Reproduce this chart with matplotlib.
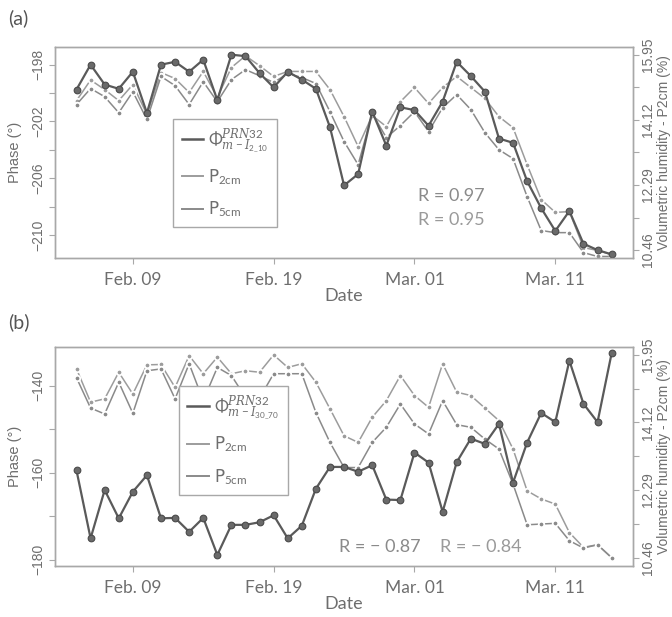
import matplotlib.pyplot as plt
from matplotlib.lines import Line2D
import numpy as np
import pandas as pd

# daily samples, Feb 05 -> Mar 15
dates = pd.date_range('2019-02-05', '2019-03-15', freq='D')
tick_dates = pd.to_datetime(['2019-02-09', '2019-02-19', '2019-03-01', '2019-03-11'])
tick_labels = ['Feb. 09', 'Feb. 19', 'Mar. 01', 'Mar. 11']

# panel (a)
phase_a = [-199.75, -198.0, -199.4, -199.7, -198.5, -201.4, -198.0, -197.8, -198.5, -197.65,
           -200.5, -197.3, -197.4, -198.6, -199.6, -198.5, -199.05, -199.7, -202.4, -206.5,
           -205.7, -201.3, -203.7, -201.0, -201.2, -202.3, -200.6, -197.8, -198.8, -199.9,
           -203.2, -203.5, -206.2, -208.1, -209.7, -208.3, -210.6, -211.05, -211.35]
p2_a = [14.66, 15.24, 14.97, 14.66, 15.11, 14.27, 15.45, 15.28, 14.89, 15.48,
        14.75, 15.59, 15.92, 15.64, 15.34, 15.48, 15.48, 15.48, 14.97, 14.21,
        13.37, 14.24, 13.93, 14.63, 15.03, 14.58, 15.03, 15.34, 15.03, 14.72,
        14.21, 13.90, 12.86, 11.88, 11.52, 11.54, 10.53, 10.45, 10.33]
p5_a = [14.55, 15.00, 14.77, 14.32, 14.91, 14.13, 15.34, 15.08, 14.55, 15.19,
        14.63, 15.25, 15.53, 15.36, 15.17, 15.42, 15.31, 15.14, 14.35, 13.51,
        12.86, 14.30, 13.62, 13.96, 14.35, 13.79, 14.46, 14.83, 14.41, 13.76,
        13.28, 13.03, 11.96, 11.01, 10.95, 10.95, 10.39, 10.28, 10.28]

# panel (b)
phase_b = [-159.5, -175.1, -164.0, -170.5, -164.4, -160.6, -170.5, -170.4, -173.6, -170.4,
           -178.9, -172.0, -172.0, -171.4, -169.8, -175.1, -172.2, -163.7, -158.7, -158.7,
           -159.8, -158.3, -166.2, -166.3, -155.4, -157.7, -169.0, -157.6, -152.2, -153.4,
           -148.8, -162.3, -153.1, -146.3, -148.4, -134.3, -144.2, -148.4, -132.6]
p2_b = [15.57, 14.67, 14.76, 15.48, 14.89, 15.68, 15.69, 15.07, 15.93, 15.44,
        15.89, 15.44, 15.52, 15.48, 15.95, 15.61, 15.71, 15.21, 14.49, 13.76,
        13.58, 14.26, 14.71, 15.39, 14.85, 14.53, 15.71, 14.94, 14.85, 14.51,
        14.17, 13.40, 12.27, 12.05, 11.91, 11.14, 10.74, 10.81, 10.46]
p5_b = [15.33, 14.51, 14.35, 15.21, 14.37, 15.52, 15.57, 14.76, 15.71, 14.71,
        15.61, 15.39, 14.80, 14.78, 15.44, 15.44, 15.44, 14.39, 13.58, 12.90,
        12.90, 13.58, 13.99, 14.62, 14.08, 13.81, 14.71, 14.06, 13.99, 13.67,
        13.40, 12.45, 11.35, 11.37, 11.39, 10.92, 10.72, 10.81, 10.46]

hum_ticks = np.linspace(10.46, 15.95, 7)

plt.rcParams['mathtext.fontset'] = 'custom'
plt.rcParams['mathtext.rm'] = 'Lato'
plt.rcParams['mathtext.it'] = 'DejaVu Serif:italic'

c_frame = '#a8a8a8'
c_text = '#6e6e6e'
c_phase = '#5a5a5a'
c_p2 = '#9c9c9c'
c_p5 = '#8a8a8a'

fig = plt.figure(figsize=(6.72, 6.17), dpi=100)


def panel(rect, phase, p2, p5, ylim, yticks, ylabels, leg_name, leg_pos):
    ax = fig.add_axes(rect)
    ax2 = ax.twinx()
    ax.set_zorder(ax2.get_zorder() + 1)
    ax.patch.set_visible(False)

    ax2.plot(dates, p2, color=c_p2, lw=1.1, marker='o', ms=4.0, mfc=c_p2,
             mec='white', mew=1.3)
    ax2.plot(dates, p5, color=c_p5, lw=1.1, marker='o', ms=4.0, mfc=c_p5,
             mec='white', mew=1.3)
    ax.plot(dates, phase, color=c_phase, lw=1.6, marker='o', ms=4.8,
            mfc='#6a6a6a', mec='#4a4a4a', mew=0.8)

    pad = pd.Timedelta(days=1.52)
    ax.set_xlim(dates[0] - pad, dates[-1] + pad)
    ax.set_ylim(*ylim)
    ax2.set_ylim(10.24, 16.17)

    ax.set_xticks(tick_dates)
    ax.set_xticklabels(tick_labels, fontsize=12.5, family='Lato', color=c_text)
    ax.set_yticks(yticks)
    ax.set_yticklabels(ylabels, rotation=90, va='center', fontsize=10,
                       family='Liberation Sans', color=c_text)
    ax2.set_yticks(hum_ticks)
    ax2.set_yticklabels([f'{v:.2f}' if i % 2 == 0 else '' for i, v in
                         enumerate(hum_ticks)],
                        rotation=90, va='center', fontsize=10,
                        family='Liberation Sans', color=c_text)
    for a in (ax, ax2):
        a.tick_params(colors=c_frame, length=4, width=0.8)
        for s in a.spines.values():
            s.set_color(c_frame)
            s.set_linewidth(1.0)
    ax.tick_params(axis='x', pad=6, labelcolor=c_text)
    ax.tick_params(axis='y', labelcolor=c_text, pad=3)
    ax2.tick_params(axis='y', labelcolor=c_text, pad=2)

    ax.set_xlabel('Date', fontsize=13, family='Lato', color=c_text, labelpad=0)
    ax.set_ylabel('Phase (°)', fontsize=10.5, family='Liberation Sans',
                  color=c_text, labelpad=7)
    ax2.set_ylabel('Volumetric humidity - P2cm (%)', fontsize=10,
                   family='Liberation Sans', color=c_text, labelpad=1)

    handles = [Line2D([], [], color=c_phase, lw=1.8),
               Line2D([], [], color=c_p2, lw=1.4),
               Line2D([], [], color=c_p5, lw=1.4)]
    labels = [leg_name, r'P$_{\mathrm{2cm}}$', r'P$_{\mathrm{5cm}}$']
    leg = ax.legend(handles, labels, loc='lower left', bbox_to_anchor=leg_pos,
                    fontsize=12, handlelength=1.3, handletextpad=0.3,
                    labelspacing=0.75, borderpad=0.5, fancybox=False,
                    framealpha=1, edgecolor=c_frame, labelcolor=c_text)
    leg.get_frame().set_linewidth(1.0)
    return ax


ax_a = panel([0.082, 0.582, 0.860, 0.342], phase_a, p2_a, p5_a,
             (-211.6, -196.75), [-198, -200, -202, -204, -206, -208, -210],
             ['\u2212198', '', '\u2212202', '', '\u2212206', '', '\u2212210'],
             r'$\Phi_{m-I_{2\_10}}^{PRN32}$', (0.19, 0.105))
ax_a.text(0.685, 0.294, 'R = 0.97', transform=ax_a.transAxes, ha='center',
          va='center', fontsize=13, family='Lato', color='#8a8a8a')
ax_a.text(0.685, 0.18, 'R = 0.95', transform=ax_a.transAxes, ha='center',
          va='center', fontsize=13, family='Lato', color='#9a9a9a')

ax_b = panel([0.082, 0.083, 0.860, 0.355], phase_b, p2_b, p5_b,
             (-181.4, -131.1), [-140, -150, -160, -170, -180],
             ['\u2212140', '', '\u2212160', '', '\u2212180'],
             r'$\Phi_{m-I_{30\_70}}^{PRN32}$', (0.2, 0.285))
ax_b.text(0.561, 0.087, 'R = \u2212 0.87', transform=ax_b.transAxes, ha='center',
          va='center', fontsize=13, family='Lato', color='#8a8a8a')
ax_b.text(0.737, 0.087, 'R = \u2212 0.84', transform=ax_b.transAxes, ha='center',
          va='center', fontsize=13, family='Lato', color='#9a9a9a')

fig.text(0.012, 0.971, '(a)', fontsize=14, family='Lato', color='#555555', va='center')
fig.text(0.012, 0.478, '(b)', fontsize=14, family='Lato', color='#555555', va='center')

fig.savefig('out.png', dpi=100, facecolor='white')
